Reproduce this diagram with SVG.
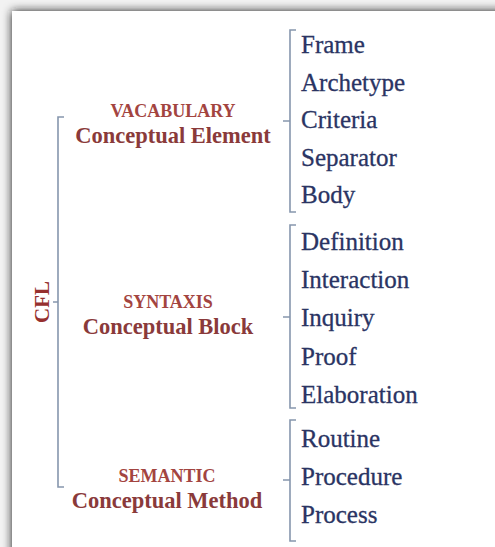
<svg xmlns="http://www.w3.org/2000/svg" width="495" height="547" viewBox="0 0 495 547">
  <defs>
    <filter id="panelShadow" x="-10%" y="-10%" width="120%" height="120%">
      <feGaussianBlur stdDeviation="5"/>
    </filter>
    <style>
      .brace { fill: none; stroke: #8696ad; stroke-width: 1.6; stroke-linejoin: miter; }
      .root { font-family: "Liberation Serif", "Times New Roman", serif; font-weight: bold; font-size: 21px; fill: #96302f; }
      .cap { font-family: "Liberation Serif", "Times New Roman", serif; font-weight: bold; font-size: 18px; fill: #a34440; text-anchor: middle; }
      .sub { font-family: "Liberation Serif", "Times New Roman", serif; font-weight: bold; font-size: 22.5px; fill: #8a3a3a; text-anchor: middle; }
      .item { font-family: "Liberation Serif", "Times New Roman", serif; font-size: 25px; fill: #2a3463; stroke: #2a3463; stroke-width: 0.3; }
    </style>
  </defs>

  <!-- page background with soft shadow along the top and left edges -->
  <rect x="0" y="0" width="495" height="547" fill="#f2f2f2"/>
  <rect x="12" y="11" width="520" height="560" fill="#1e1e1e" filter="url(#panelShadow)"/>
  <rect x="12" y="11" width="483" height="536" fill="#ffffff"/>

  <!-- connectors: curly-style braces -->
  <g id="connectors">
    <!-- root brace -->
    <path class="brace" d="M64,117 H58 V487 H64 M58,302 H53"/>
    <!-- vocabulary brace -->
    <path class="brace" d="M296,30 H290 V212 H296 M290,121 H283"/>
    <!-- syntaxis brace -->
    <path class="brace" d="M296,225 H290 V408 H296 M290,317 H283"/>
    <!-- semantic brace -->
    <path class="brace" d="M296,420 H290 V541 H296 M290,480 H283"/>
  </g>

  <g id="cfl">
    <text class="root" transform="translate(49,302) rotate(-90)" text-anchor="middle">CFL</text>
  </g>

  <g id="vocabulary">
    <text class="cap" x="173" y="117">VACABULARY</text>
    <text class="sub" x="173" y="143">Conceptual Element</text>
  </g>

  <g id="syntaxis">
    <text class="cap" x="168" y="308">SYNTAXIS</text>
    <text class="sub" x="168" y="334">Conceptual Block</text>
  </g>

  <g id="semantic">
    <text class="cap" x="167" y="482">SEMANTIC</text>
    <text class="sub" x="167" y="508">Conceptual Method</text>
  </g>

  <g id="vocabulary-items">
    <text class="item" x="301" y="53">Frame</text>
    <text class="item" x="301" y="90.5">Archetype</text>
    <text class="item" x="301" y="128">Criteria</text>
    <text class="item" x="301" y="165.5">Separator</text>
    <text class="item" x="301" y="203">Body</text>
  </g>

  <g id="syntaxis-items">
    <text class="item" x="301" y="250">Definition</text>
    <text class="item" x="301" y="288">Interaction</text>
    <text class="item" x="301" y="326">Inquiry</text>
    <text class="item" x="301" y="365">Proof</text>
    <text class="item" x="301" y="403">Elaboration</text>
  </g>

  <g id="semantic-items">
    <text class="item" x="301" y="447">Routine</text>
    <text class="item" x="301" y="485">Procedure</text>
    <text class="item" x="301" y="523">Process</text>
  </g>
</svg>
